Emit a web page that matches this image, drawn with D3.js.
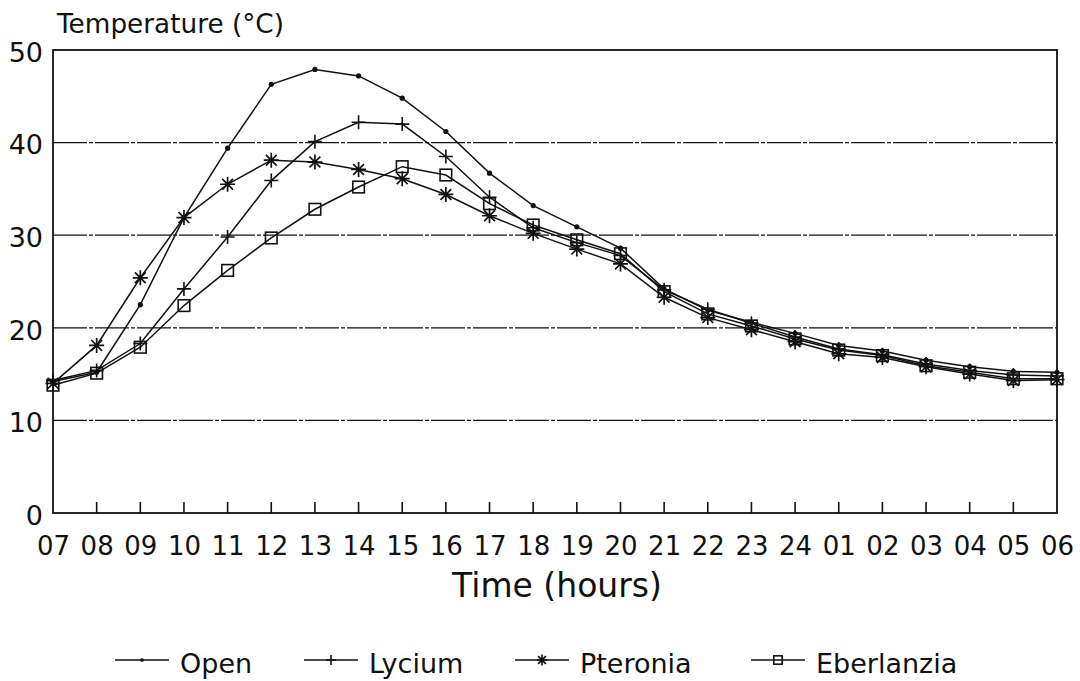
<!DOCTYPE html>
<html><head><meta charset="utf-8">
<script src="https://cdn.jsdelivr.net/npm/d3@7"></script>
<style>
html,body{margin:0;padding:0;background:#fff;}
svg{display:block;font-family:"DejaVu Sans",sans-serif;}
</style></head>
<body>
<svg id="chart" width="1080" height="681"></svg>
<script>
const hours = ["07","08","09","10","11","12","13","14","15","16","17","18","19","20","21","22","23","24","01","02","03","04","05","06"];
const yTicks = [0,10,20,30,40,50];
const seriesNames = ["Open","Lycium","Pteronia","Eberlanzia"];
const openVals = [14.2,15.2,22.5,31.9,39.4,46.3,47.9,47.2,44.8,41.2,36.7,33.2,30.9,28.6,24.2,21.9,20.6,19.4,18.1,17.5,16.5,15.8,15.3,15.2];
const lyciumVals = [14.3,15.4,18.3,24.2,29.8,35.9,40.1,42.2,42.0,38.5,34.1,30.8,29.2,27.8,24.1,22.0,20.5,19.0,17.7,17.1,16.1,15.4,14.9,14.8];
const pteroniaVals = [14.0,18.1,25.4,31.9,35.5,38.1,37.9,37.1,36.1,34.4,32.1,30.2,28.5,26.9,23.3,21.1,19.8,18.5,17.2,16.8,15.8,15.0,14.3,14.4];
const eberlanziaVals = [13.8,15.1,17.9,22.4,26.2,29.7,32.8,35.2,37.4,36.5,33.4,31.1,29.5,28.0,23.9,21.5,20.2,18.8,17.6,17.0,15.9,15.2,14.5,14.5];
const yTitle = "Temperature (°C)";
const xTitle = "Time (hours)";

const series = [
  {name: seriesNames[0], vals: openVals, marker: "dot"},
  {name: seriesNames[1], vals: lyciumVals, marker: "plus"},
  {name: seriesNames[2], vals: pteroniaVals, marker: "star"},
  {name: seriesNames[3], vals: eberlanziaVals, marker: "square"}
];

const svg = d3.select("#chart");
const L = 53, R = 1057, T = 50, B = 513;
const x = d3.scalePoint().domain(hours).range([L, R]);
const y = d3.scaleLinear().domain([0, 50]).range([B, T]);
const ink = "#111";

// gridlines
svg.append("g").selectAll("line").data(yTicks.filter(v => v > 0 && v < 50)).join("line")
  .attr("x1", L).attr("x2", R).attr("y1", d => y(d)).attr("y2", d => y(d))
  .attr("stroke", ink).attr("stroke-width", 1.3).attr("stroke-dasharray", "34 2 4 2");

// frame
svg.append("rect").attr("x", L).attr("y", T).attr("width", R - L).attr("height", B - T)
  .attr("fill", "none").attr("stroke", ink).attr("stroke-width", 1.8);

// x axis ticks & labels
const xAxis = d3.axisBottom(x).tickSize(0).tickPadding(0);
const gx = svg.append("g").attr("transform", `translate(0,${B})`).call(xAxis);
gx.select(".domain").remove();
gx.selectAll("text").attr("dy", null).attr("y", 42).attr("font-size", 26)
  .attr("font-family", "DejaVu Sans").attr("fill", ink);
svg.append("g").selectAll("line").data(hours.slice(1, -1)).join("line")
  .attr("x1", d => x(d)).attr("x2", d => x(d)).attr("y1", B).attr("y2", B - 11)
  .attr("stroke", ink).attr("stroke-width", 1.6);

// y axis labels
const yAxis = d3.axisLeft(y).tickValues(yTicks).tickSize(0).tickPadding(0).tickFormat(d3.format("d"));
const gy = svg.append("g").attr("transform", `translate(${L - 10},0)`).call(yAxis);
gy.select(".domain").remove();
gy.selectAll("text").attr("font-size", 27).attr("font-family", "DejaVu Sans")
  .attr("fill", ink).attr("dy", "0.42em");

// titles
svg.append("text").attr("x", 57).attr("y", 33).attr("font-size", 26.3).attr("fill", ink).text(yTitle);
svg.append("text").attr("x", (L + R) / 2 + 2).attr("y", 597).attr("text-anchor", "middle")
  .attr("font-size", 33).attr("fill", ink).text(xTitle);

// markers
function drawMarker(g, type, cx, cy, s) {
  if (type === "dot") {
    g.append("circle").attr("cx", cx).attr("cy", cy).attr("r", 2.6 * s).attr("fill", ink);
  } else if (type === "plus") {
    const r = 7 * s;
    g.append("path").attr("d", `M${cx - r},${cy}H${cx + r}M${cx},${cy - r}V${cy + r}`)
      .attr("stroke", ink).attr("stroke-width", 1.6).attr("fill", "none");
  } else if (type === "star") {
    const r = 7.5 * s, k = r * 0.72;
    g.append("path").attr("d",
      `M${cx - r},${cy}H${cx + r}M${cx},${cy - r}V${cy + r}M${cx - k},${cy - k}L${cx + k},${cy + k}M${cx - k},${cy + k}L${cx + k},${cy - k}`)
      .attr("stroke", ink).attr("stroke-width", 1.7).attr("fill", "none");
  } else if (type === "square") {
    const h = 5.8 * s;
    g.append("rect").attr("x", cx - h).attr("y", cy - h).attr("width", 2 * h).attr("height", 2 * h)
      .attr("stroke", ink).attr("stroke-width", 1.6).attr("fill", "none");
  }
}

const line = d3.line().x((d, i) => x(hours[i])).y(d => y(d));
const gl = svg.append("g");
series.forEach(s => {
  gl.append("path").datum(s.vals).attr("d", line).attr("fill", "none")
    .attr("stroke", ink).attr("stroke-width", 1.5);
});
const gm = svg.append("g");
series.forEach(s => {
  s.vals.forEach((v, i) => drawMarker(gm, s.marker, x(hours[i]), y(v), 1));
});

// legend
const legendPos = [142, 331, 542, 778];
const legY = 660;
const glg = svg.append("g");
series.forEach((s, i) => {
  const cx = legendPos[i];
  glg.append("line").attr("x1", cx - 27).attr("x2", cx + 27).attr("y1", legY).attr("y2", legY)
    .attr("stroke", ink).attr("stroke-width", 1.5);
  drawMarker(glg, s.marker, cx, legY, 0.72);
  glg.append("text").attr("x", cx + 38).attr("y", 673).attr("font-size", 27).attr("fill", ink).text(s.name);
});
</script>
</body></html>
